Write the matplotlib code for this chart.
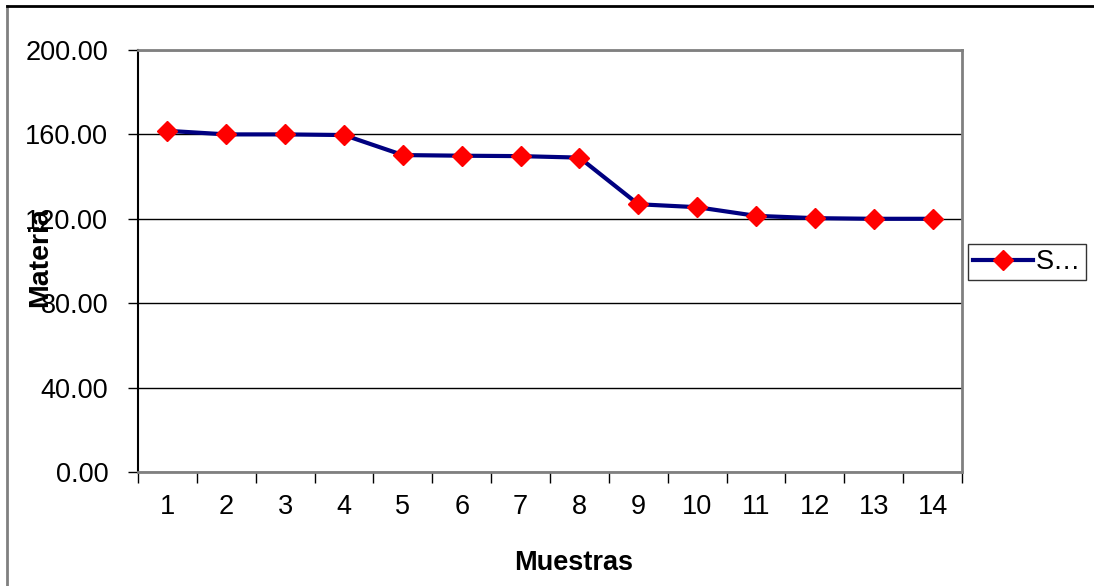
import matplotlib
matplotlib.use("Agg")
import matplotlib.pyplot as plt
from matplotlib.lines import Line2D

plt.rcParams['font.family'] = ['Liberation Sans', 'DejaVu Sans']

# data
muestras = [1, 2, 3, 4, 5, 6, 7, 8, 9, 10, 11, 12, 13, 14]
materia = [161.7, 160.0, 160.0, 159.7, 150.2, 149.9, 149.7, 149.0,
           126.9, 125.5, 121.4, 120.3, 120.0, 120.0]
y_ticks = [0, 40, 80, 120, 160, 200]
serie_name = "S\u2026"

W, H = 1094, 586
fs = 19.5
fig = plt.figure(figsize=(W / 100, H / 100), dpi=100)
ax = fig.add_axes([138 / W, 1 - 472 / H, (962 - 138) / W, (472 - 50) / H])

ax.plot(muestras, materia, color='#000080', linewidth=3,
        marker='D', markersize=10, markerfacecolor='red',
        markeredgecolor='red', zorder=3)

ax.set_xlim(0.5, 14.5)
ax.set_ylim(0, 200)

# y axis
ax.set_yticks(y_ticks)
ax.set_yticklabels([f"{v:.2f}" for v in y_ticks])
ax.yaxis.grid(True, color='black', linewidth=1)
ax.tick_params(axis='y', direction='out', length=7, width=1,
               labelsize=fs, pad=14.5, colors='black')

# x axis: category labels at centres, tick marks at the boundaries
ax.set_xticks(muestras)
ax.set_xticklabels([str(m) for m in muestras])
ax.tick_params(axis='x', which='major', length=0, labelsize=fs, pad=15.5)
ax.set_xticks([m + 0.5 for m in [0] + muestras], minor=True)
ax.tick_params(axis='x', which='minor', direction='out', length=8, width=1,
               color='black')

for side in ['top', 'right', 'bottom']:
    ax.spines[side].set_color('#808080')
    ax.spines[side].set_linewidth(2)
ax.spines['left'].set_color('black')
ax.spines['left'].set_linewidth(1.5)
ax.set_axisbelow(True)

fig.text(574 / W, 1 - 563 / H, "Muestras", ha='center', va='center',
         fontsize=fs, fontweight='bold')
fig.text(40 / W, 1 - 257 / H, "Materia", ha='center', va='center',
         rotation=90, fontsize=20.5, fontweight='bold')

# legend box on the right
handle = Line2D([], [], color='#000080', linewidth=3, marker='D',
                markersize=10, markerfacecolor='red', markeredgecolor='red')
leg = fig.legend([handle], [serie_name], loc='center left',
                 bbox_to_anchor=(968 / W, 1 - 262 / H), fontsize=fs,
                 frameon=True, fancybox=False, edgecolor='black',
                 borderpad=0.2, handlelength=2.2, handletextpad=0.1,
                 borderaxespad=0)
leg.get_frame().set_linewidth(1)

# outer chart frame
fig.add_artist(Line2D([7 / W, 7 / W], [0, 1 - 6 / H], color='#808080',
                      linewidth=2, transform=fig.transFigure))
fig.add_artist(Line2D([7 / W, 1], [1 - 6 / H, 1 - 6 / H], color='black',
                      linewidth=2, transform=fig.transFigure))

fig.savefig("out.png", dpi=100)
